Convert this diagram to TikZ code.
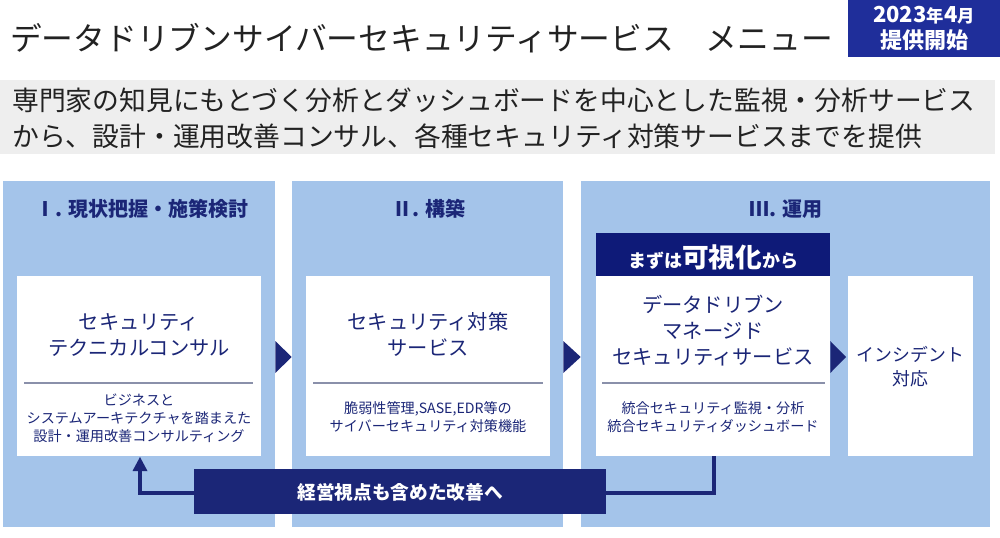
\documentclass[tikz,border=0pt]{standalone}
\usepackage{fontspec}
\setmainfont{Noto Sans CJK JP}
\usetikzlibrary{calc}
\definecolor{panelblue}{HTML}{A4C4EA}
\definecolor{navy}{HTML}{1B2677}
\definecolor{deepnavy}{HTML}{0E1A78}
\definecolor{badgeblue}{HTML}{1F2E9A}
\definecolor{bandgray}{HTML}{EEEEEE}
\definecolor{textgray}{HTML}{222222}
\definecolor{sepgray}{HTML}{8A90AA}
\begin{document}
\begin{tikzpicture}[x=0.75pt,y=-0.75pt,
  box/.style={draw=none,inner sep=0pt,anchor=center},
  panel/.style={box,fill=panelblue,minimum height=346*0.75pt},
  wbox/.style={box,fill=white,minimum height=180*0.75pt},
  phasehead/.style={text=navy,font=\bfseries\fontsize{15}{18}\selectfont},
  btitle/.style={text=navy,align=center,font=\fontsize{15.2}{19.5}\selectfont},
  bsub/.style={text=navy,align=center,font=\fontsize{10.6}{13.6}\selectfont},
  sep/.style={draw=sepgray,line width=0.8pt},
  tri/.style={fill=navy,draw=none},
  fb/.style={draw=navy,line width=3pt}
]
\useasboundingbox (0,0) rectangle (1000,537);
% title
\node[anchor=west,inner sep=0pt,text=textgray,font=\fontsize{23.8}{28}\selectfont] (title) at (10,38) {データドリブンサイバーセキュリティサービス\hspace{1em}メニュー};
% badge
\node[box,fill=badgeblue,minimum width=152*0.75pt,minimum height=57*0.75pt] (badge) at (924,28.5) {};
\node[text=white,align=center,font=\bfseries\fontsize{16.5}{20}\selectfont] (badgetext) at (badge.center) {2023{\fontsize{13}{16}\selectfont 年}4{\fontsize{13}{16}\selectfont 月}\\提供開始};
% band
\node[box,fill=bandgray,minimum width=995*0.75pt,minimum height=74*0.75pt] (band) at (497.5,117) {};
\node[anchor=west,inner sep=0pt,text=textgray,font=\fontsize{20.1}{24}\selectfont] (band1) at (12,100) {専門家の知見にもとづく分析とダッシュボードを中心とした監視・分析サービス};
\node[anchor=west,inner sep=0pt,text=textgray,font=\fontsize{20.1}{24}\selectfont] (band2) at (12,136) {から、設計・運用改善コンサル、各種セキュリティ対策サービスまでを提供};
% panels
\node[panel,minimum width=272*0.75pt] (p1) at (139,354) {};
\node[panel,minimum width=271*0.75pt] (p2) at (427.5,354) {};
\node[panel,minimum width=409*0.75pt] (p3) at (785.5,354) {};
\node[phasehead] (h1) at (142,209) {Ⅰ. 現状把握・施策検討};
\node[phasehead] (h2) at (429,209) {Ⅱ. 構築};
\node[phasehead] (h3) at (786,209) {Ⅲ. 運用};
% white boxes
\node[wbox,minimum width=244*0.75pt] (b1) at (139,366) {};
\node[wbox,minimum width=244*0.75pt] (b2) at (428,366) {};
\node[wbox,minimum width=234*0.75pt] (b3) at (713,366) {};
\node[wbox,minimum width=125*0.75pt] (b4) at (910.5,366) {};
\node[box,fill=deepnavy,minimum width=234*0.75pt,minimum height=43*0.75pt] (b3h) at (713,254.5) {};
\node[text=white,font=\bfseries\fontsize{13.5}{16}\selectfont] (b3htext) at (713,257) {まずは{\fontsize{20}{22}\selectfont 可視化}から};
% box texts
\node[btitle] (t1) at (139,334.5) {セキュリティ\\テクニカルコンサル};
\node[btitle] (t2) at (428,334.5) {セキュリティ対策\\サービス};
\node[btitle] (t3) at (713,331) {データドリブン\\マネージド\\セキュリティサービス};
\node[text=navy,align=center,font=\fontsize{13.4}{18}\selectfont] (t4) at (910.5,367) {インシデント\\対応};
\draw[sep] (24,383) -- (253,383);
\draw[sep] (313,383) -- (543,383);
\draw[sep] (602,383) -- (825,383);
\node[bsub] (s1) at (139,418) {ビジネスと\\システムアーキテクチャを踏まえた\\設計・運用改善コンサルティング};
\node[bsub] (s2) at (428,417) {脆弱性管理,SASE,EDR等の\\サイバーセキュリティ対策機能};
\node[bsub] (s3) at (713,417) {統合セキュリティ監視・分析\\統合セキュリティダッシュボード};
% flow triangles
\fill[tri] (p1.east |- 0,341) -- (p2.west |- 0,357) -- (p1.east |- 0,373) -- cycle;
\fill[tri] (p2.east |- 0,341) -- (p3.west |- 0,357) -- (p2.east |- 0,373) -- cycle;
\fill[tri] (b3.east |- 0,341) -- (846,357) -- (b3.east |- 0,373) -- cycle;
% feedback
\coordinate (fbcorner1) at (714,493);
\coordinate (fbcorner2) at (140,493);
\coordinate (fbtip) at (140,457);
\draw[fb] (b3.south -| fbcorner1) -- (fbcorner1) -- (fbcorner2) -- (140,468);
\fill[navy] (fbtip) -- (147.5,471) -- (132.5,471) -- cycle;
\node[box,fill=navy,minimum width=412*0.75pt,minimum height=45*0.75pt] (bar) at (400,491.5) {};
\node[text=white,font=\bfseries\fontsize{14}{16}\selectfont] (bartext) at (400,492) {経営視点も含めた改善へ};
\end{tikzpicture}
\end{document}
